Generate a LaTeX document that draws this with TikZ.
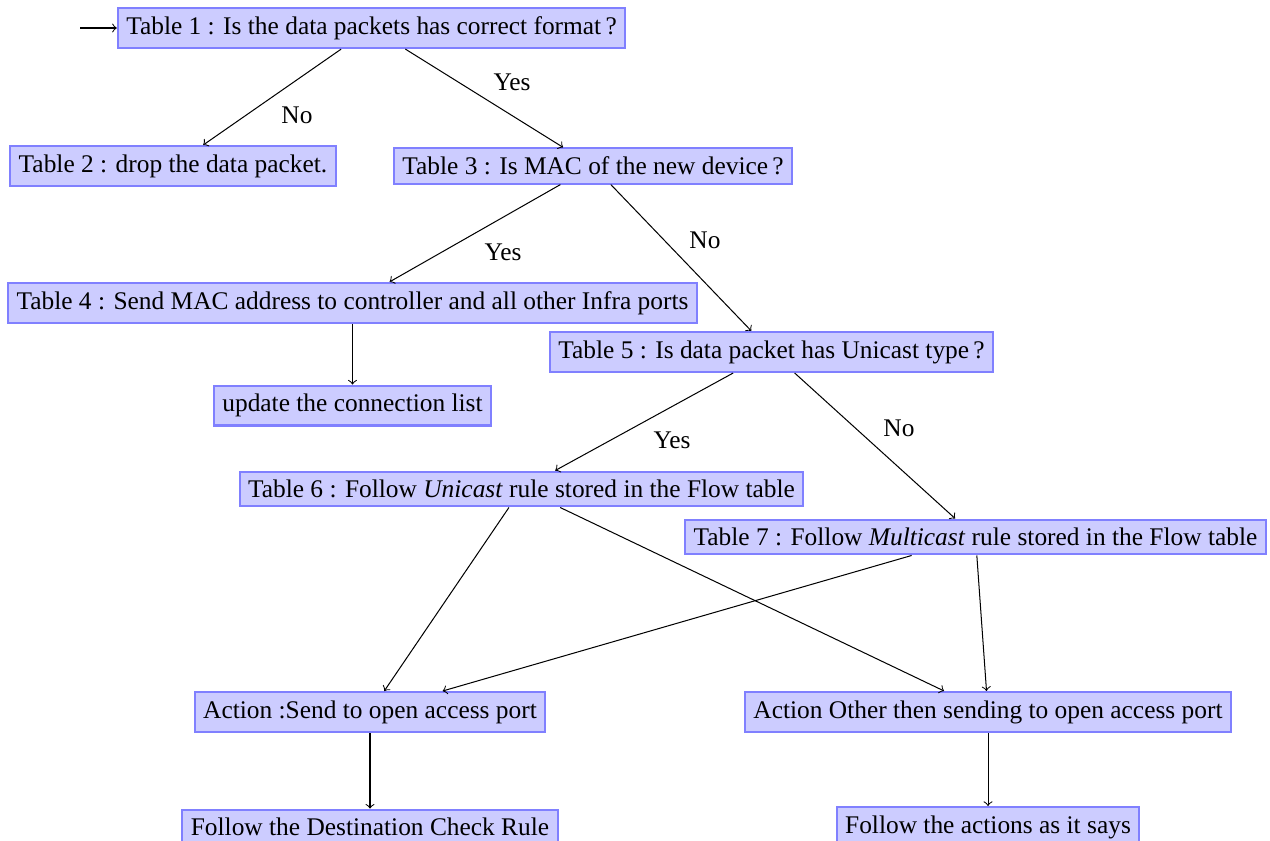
\documentclass[tikz,border=0pt]{standalone}
\usepackage{fontspec}
\setmainfont{Liberation Serif}
\begin{document}
\begin{tikzpicture}[x=0.3937pt,y=-0.3937pt,
  box/.style={draw=blue!50,fill=blue!20,thick,font=\fontsize{10}{12}\selectfont},
  lbl/.style={font=\fontsize{10}{12}\selectfont},
  >=to]
\useasboundingbox (0,0) rectangle (1270,841);

% decision tables
\node[box] (t1) at (371.5,28) {Table 1 : Is the data packets has correct format\,?};
\node[box] (t2) at (173,166) {Table 2 : drop the data packet.};
\node[box] (t3) at (593,166) {Table 3 : Is MAC of the new device\,?};
\node[box] (t4) at (352.5,303) {Table 4 : Send MAC address to controller and all other Infra ports};
\node[box] (upd) at (352.5,405.5) {update the connection list};
\node[box] (t5) at (771.5,352) {Table 5 : Is data packet has Unicast type\,?};
\node[box] (t6) at (521.5,489) {Table 6 : Follow \textit{Unicast} rule stored in the Flow table};
\node[box] (t7) at (975.5,537) {Table 7 : Follow \textit{Multicast} rule stored in the Flow table};

% actions
\node[box] (a1) at (370,712) {Action :Send to open access port};
\node[box] (a2) at (988,712) {Action Other then sending to open access port};
\node[box] (f1) at (370,827) {Follow the Destination Check Rule};
\node[box] (f2) at (988,827) {Follow the actions as it says};

% entry
\coordinate (start) at (80,28);
\draw[->] (start) -- (t1.west);

% branches
\draw[->] (t1) -- (t2);
\draw[->] (t1) -- (t3);
\draw[->] (t3) -- (t4);
\draw[->] (t3) -- (t5);
\draw[->] (t4) -- (upd);
\draw[->] (t5) -- (t6);
\draw[->] (t5) -- (t7);
\draw[->] (t6) -- (a1);
\draw[->] (t6) -- (a2);
\draw[->] (t7) -- (a1);
\draw[->] (t7) -- (a2);
\draw[->] (a1) -- (f1);
\draw[->] (a2) -- (f2);

% branch labels
\node[lbl] (n1) at (297,115) {No};
\node[lbl] (y1) at (512,82) {Yes};
\node[lbl] (y2) at (503,252) {Yes};
\node[lbl] (n2) at (705,240) {No};
\node[lbl] (y3) at (672,440) {Yes};
\node[lbl] (n3) at (899,428) {No};
\end{tikzpicture}
\end{document}
